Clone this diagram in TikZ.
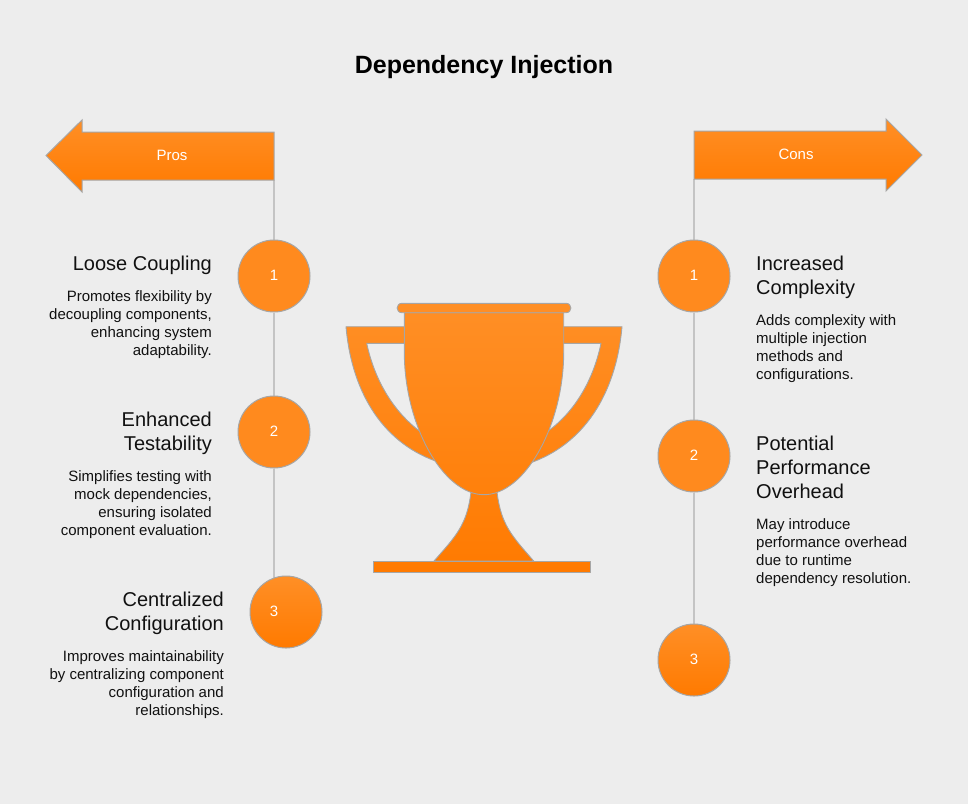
\documentclass[tikz,border=0pt]{standalone}
\usepackage{fontspec}
\setmainfont{Liberation Sans}
\usetikzlibrary{backgrounds}
\definecolor{bgc}{HTML}{EDEDED}
\definecolor{edgec}{HTML}{A6A6A6}
\definecolor{linec}{HTML}{C4C4C4}
\definecolor{ctop}{HTML}{FF8F26}
\definecolor{cbot}{HTML}{FF7A00}
\definecolor{cflat}{HTML}{FF8A1E}
\definecolor{inkc}{HTML}{111111}
\newcommand{\piece}[1]{%
  \begin{scope}
    \clip #1;
    \shade[top color=ctop,bottom color=cbot] (340,303) rectangle (630,573);
  \end{scope}
  \draw[edgec,line width=0.9pt,line join=round] #1;}
\newcommand{\bnum}[1]{\raisebox{2pt}{#1}}
\tikzset{
  x=1pt,y=-1pt,
  badge/.style={circle,draw=edgec,line width=1pt,minimum size=72pt,inner sep=0pt,
    fill=cflat,text=white,font=\fontsize{15}{15}\selectfont},
  badgelow/.style={badge,top color=ctop,bottom color=cbot},
  headlabel/.style={text=white,font=\fontsize{15}{15}\selectfont,inner sep=0pt},
  arrowshape/.style={draw=edgec,line width=1pt,line join=miter,top color=ctop,bottom color=cbot},
  spine/.style={linec,line width=2.2pt},
  titlelbl/.style={inner sep=0pt,text=black,font=\fontsize{25}{30}\selectfont\bfseries},
  headL/.style={anchor=north east,align=right,inner sep=0pt,text=inkc,font=\fontsize{20}{24}\selectfont},
  headR/.style={anchor=north west,align=left,inner sep=0pt,text=inkc,font=\fontsize{20}{24}\selectfont},
  bodyL/.style={anchor=north east,align=right,inner sep=0pt,text=inkc,font=\fontsize{15}{18}\selectfont},
  bodyR/.style={anchor=north west,align=left,inner sep=0pt,text=inkc,font=\fontsize{15}{18}\selectfont},
}
\begin{document}
\begin{tikzpicture}
\useasboundingbox (0,0) rectangle (968,804);
\begin{scope}[on background layer]
  \fill[bgc] (0,0) rectangle (968,804);
\end{scope}

\node[titlelbl] (title) at (484,67.5) {Dependency Injection};

% header arrows
\path[arrowshape] (46,155.5) -- (82,120) -- (82,132) -- (274,132) -- (274,180) -- (82,180) -- (82,192) -- cycle;
\coordinate (prosroot) at (274,180);
\node[headlabel] (pros) at (172,155) {Pros};
\path[arrowshape] (922,155) -- (886,119) -- (886,131) -- (694,131) -- (694,179) -- (886,179) -- (886,191) -- cycle;
\coordinate (consroot) at (694,179);
\node[headlabel] (cons) at (796,154) {Cons};

% badges
\node[badge] (p1) at (274,276) {\bnum{1}};
\node[badge] (p2) at (274,432) {\bnum{2}};
\node[badgelow] (p3) at (286,612) {};
\node[text=white,font=\fontsize{15}{15}\selectfont,inner sep=0pt] (p3n) at (274,611) {3};
\coordinate (pend) at (274,600);
\node[badge] (c1) at (694,276) {\bnum{1}};
\node[badge] (c2) at (694,456) {\bnum{2}};
\node[badgelow] (c3) at (694,660) {\bnum{3}};

\begin{scope}[on background layer]
  \draw[spine] (prosroot) -- (p1) -- (p2) -- (pend);
  \draw[spine] (consroot) -- (c1) -- (c2) -- (c3);
\end{scope}

% texts
\node[headL] (ph1) at (212,256) {Loose Coupling};
\node[bodyL] (pb1) at (212,290.5) {Promotes flexibility by\\decoupling components,\\enhancing system\\adaptability.};
\node[headL] (ph2) at (212,412) {Enhanced\\Testability};
\node[bodyL] (pb2) at (212,470.5) {Simplifies testing with\\mock dependencies,\\ensuring isolated\\component evaluation.};
\node[headL] (ph3) at (224,592) {Centralized\\Configuration};
\node[bodyL] (pb3) at (224,650.5) {Improves maintainability\\by centralizing component\\configuration and\\relationships.};
\node[headR] (ch1) at (756,256) {Increased\\Complexity};
\node[bodyR] (cb1) at (756,314.5) {Adds complexity with\\multiple injection\\methods and\\configurations.};
\node[headR] (ch2) at (756,436) {Potential\\Performance\\Overhead};
\node[bodyR] (cb2) at (756,518.5) {May introduce\\performance overhead\\due to runtime\\dependency resolution.};

% trophy
\piece{(346,326.7) -- (405,326.7) -- (405,343.3) -- (366.7,343.3) .. controls (375,382) and (395,414) .. (423.5,434) -- (440,462.5) .. controls (385,445) and (352,395) .. (346,326.7) -- cycle}
\piece{(622,326.7) -- (563,326.7) -- (563,343.3) -- (601,343.3) .. controls (593,382) and (573,414) .. (545.7,432.7) -- (529,463.3) .. controls (583,445) and (616,395) .. (622,326.7) -- cycle}
\piece{(471,492) -- (497,492) .. controls (501,525) and (512,536) .. (533.7,561) -- (434,561) .. controls (456,536) and (467,525) .. (471,492) -- cycle}
\piece{(373.7,561.3) -- (590.3,561.3) -- (590.3,572.3) -- (373.7,572.3) -- cycle}
\piece{(404.3,312.7) -- (563.7,312.7) -- (563.7,352) .. controls (563.7,425) and (525,494.7) .. (484,494.7) .. controls (443,494.7) and (404.3,425) .. (404.3,352) -- cycle}
\piece{(402,303.3) -- (566,303.3) .. controls (572.5,303.3) and (572.5,312.7) .. (566,312.7) -- (402,312.7) .. controls (395.5,312.7) and (395.5,303.3) .. (402,303.3) -- cycle}
\end{tikzpicture}
\end{document}
